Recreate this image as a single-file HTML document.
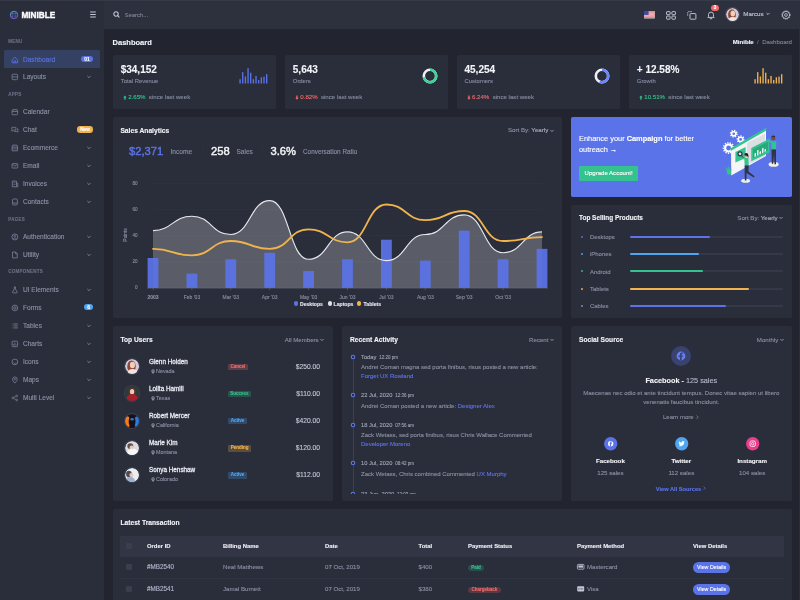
<!DOCTYPE html>
<html lang="en"><head><meta charset="utf-8"><title>Minible Dashboard</title>
<style>
*{box-sizing:border-box;margin:0;padding:0}
html,body{width:800px;height:600px;overflow:hidden;background:#22252f;font-family:"Liberation Sans",Arial,sans-serif}
#root{position:relative;width:800px;height:600px;overflow:hidden;will-change:transform}
.a{position:absolute}
.t{position:absolute;white-space:nowrap;line-height:10px;height:10px;-webkit-text-stroke:0.12px currentColor}
.t b{font-weight:700}
svg{overflow:visible}
</style></head><body><div id="root">

<div class="a" style="left:104.40px;top:0.00px;width:695.60px;height:29.00px;background:#2d313e;border-radius:0px;"></div>
<div class="a" style="left:0.00px;top:0.00px;width:104.40px;height:600.00px;background:#2a2e3b;border-radius:0px;"></div>
<div class="a" style="left:0.00px;top:0.00px;width:800.00px;height:0.80px;background:#353948;border-radius:0px;"></div>
<div class="a" style="left:798.60px;top:29.00px;width:1.40px;height:571.00px;background:#2b2f3c;border-radius:0px;"></div>
<svg class="a" style="left:8.85px;top:10.00px;" width="10" height="10" viewBox="0 0 10 10"><defs><linearGradient id="lg" x1="0.1" y1="0" x2="0.7" y2="1"><stop offset="0" stop-color="#3fa9d8"/><stop offset="1" stop-color="#7a52c4"/></linearGradient></defs>
<circle cx="5" cy="5" r="3.75" fill="#2b3550" stroke="url(#lg)" stroke-width="0.95"/>
<ellipse cx="5" cy="5" rx="1.7" ry="3.75" fill="none" stroke="url(#lg)" stroke-width="0.5" opacity="0.8"/>
<path d="M1.5 3.7H8.5M1.5 6.3H8.5" stroke="url(#lg)" stroke-width="0.5" opacity="0.8"/></svg>
<div class="t" style="top:9.90px;font-size:8.2px;color:#ffffff;line-height:12px;height:12px;font-weight:700;left:21.40px;letter-spacing:0.02px;font-weight:700;-webkit-text-stroke:0.35px #fff;">MINIBLE</div>
<svg class="a" style="left:90.30px;top:11.30px;" width="6" height="7" viewBox="0 0 6 7"><path d="M0.2 1.0H5.8M0.2 3.5H5.8M0.2 6.0H5.8" stroke="#c3c8d8" stroke-width="1.1"/></svg>
<svg class="a" style="left:113.30px;top:11.30px;" width="7" height="7" viewBox="0 0 7 7"><circle cx="3" cy="3" r="2.2" fill="none" stroke="#c3c8d8" stroke-width="1.05"/><path d="M4.7 4.7L6.1 6.1" stroke="#c3c8d8" stroke-width="1.05" stroke-linecap="round"/></svg>
<div class="t" style="top:10.20px;font-size:5.8px;color:#7d8496;left:124.80px;">Search...</div>
<div class="t" style="top:36.50px;font-size:4.5px;color:#697085;left:8.30px;letter-spacing:0.25px;font-weight:600;">MENU</div>
<div class="t" style="top:89.80px;font-size:4.5px;color:#697085;left:8.30px;letter-spacing:0.25px;font-weight:600;">APPS</div>
<div class="t" style="top:214.50px;font-size:4.5px;color:#697085;left:8.30px;letter-spacing:0.25px;font-weight:600;">PAGES</div>
<div class="t" style="top:267.00px;font-size:4.5px;color:#697085;left:8.30px;letter-spacing:0.25px;font-weight:600;">COMPONENTS</div>
<div class="a" style="left:4.30px;top:50.00px;width:95.70px;height:17.50px;background:#344163;border-radius:1.5px;"></div>
<svg class="a" style="left:11.15px;top:55.55px;" width="7.7" height="7.9" viewBox="0 0 7 7.2"><path d="M1 3.4L3.5 1.1L6 3.4V6.2H1Z M2.7 6.2V4.4H4.3V6.2" fill="none" stroke="#5b73e8" stroke-width="0.75" stroke-linejoin="round"/></svg>
<div class="t" style="top:55.20px;font-size:6.55px;color:#5b73e8;left:23.00px;">Dashboard</div>
<div class="a" style="left:80.80px;top:55.70px;width:12.20px;height:6.60px;background:#5b73e8;border-radius:3.3px;"></div>
<div class="t" style="top:54.20px;font-size:5px;color:#fff;font-weight:700;left:-113.10px;width:400px;text-align:center;">01</div>
<svg class="a" style="left:11.15px;top:72.55px;" width="7.7" height="7.9" viewBox="0 0 7 7.2"><rect x="1" y="1.1" width="5" height="5" rx="0.8" fill="none" stroke="#78819a" stroke-width="0.75"/><path d="M1 3.6H6" stroke="#78819a" stroke-width="0.75"/></svg>
<div class="t" style="top:71.90px;font-size:6.55px;color:#8b92a6;left:23.00px;">Layouts</div>
<svg class="a" style="left:86.30px;top:73.70px;" width="6" height="6" viewBox="0 0 6 6"><path d="M1.65 2.325 L3 3.675 L4.35 2.325" fill="none" stroke="#7b8499" stroke-width="0.95" stroke-linecap="round" stroke-linejoin="round"/></svg>
<svg class="a" style="left:11.15px;top:107.75px;" width="7.7" height="7.9" viewBox="0 0 7 7.2"><rect x="1" y="1.6" width="5" height="4.6" rx="0.8" fill="none" stroke="#78819a" stroke-width="0.75"/><path d="M1 3.2H6M2.3 0.9V2M4.7 0.9V2" stroke="#78819a" stroke-width="0.7"/></svg>
<div class="t" style="top:107.40px;font-size:6.55px;color:#8b92a6;left:23.00px;">Calendar</div>
<svg class="a" style="left:11.15px;top:125.55px;" width="7.7" height="7.9" viewBox="0 0 7 7.2"><path d="M0.8 1.2H4.4V3.8H2.2L0.8 4.8Z" fill="none" stroke="#78819a" stroke-width="0.7" stroke-linejoin="round"/><path d="M5.2 2.6H6.3V5.6L5.3 5H3V4.4" fill="none" stroke="#78819a" stroke-width="0.7" stroke-linejoin="round"/></svg>
<div class="t" style="top:124.90px;font-size:6.55px;color:#8b92a6;left:23.00px;">Chat</div>
<div class="a" style="left:77.00px;top:126.40px;width:16.00px;height:6.40px;background:#f1b44c;border-radius:3.2px;"></div>
<div class="t" style="top:124.70px;font-size:4.7px;color:#fff;font-weight:700;left:-115.00px;width:400px;text-align:center;">New</div>
<svg class="a" style="left:11.15px;top:143.75px;" width="7.7" height="7.9" viewBox="0 0 7 7.2"><path d="M1 2.6L1.6 1H5.4L6 2.6V6.2H1Z M1 2.8H6" fill="none" stroke="#78819a" stroke-width="0.75" stroke-linejoin="round"/><path d="M1 4.4H6" stroke="#78819a" stroke-width="0.6"/></svg>
<div class="t" style="top:143.40px;font-size:6.55px;color:#8b92a6;left:23.00px;">Ecommerce</div>
<svg class="a" style="left:86.30px;top:144.80px;" width="6" height="6" viewBox="0 0 6 6"><path d="M1.65 2.325 L3 3.675 L4.35 2.325" fill="none" stroke="#7b8499" stroke-width="0.95" stroke-linecap="round" stroke-linejoin="round"/></svg>
<svg class="a" style="left:11.15px;top:161.75px;" width="7.7" height="7.9" viewBox="0 0 7 7.2"><rect x="0.9" y="1.5" width="5.2" height="4" rx="0.7" fill="none" stroke="#78819a" stroke-width="0.75"/><path d="M1.2 2L3.5 3.8L5.8 2" fill="none" stroke="#78819a" stroke-width="0.7"/></svg>
<div class="t" style="top:161.40px;font-size:6.55px;color:#8b92a6;left:23.00px;">Email</div>
<svg class="a" style="left:86.30px;top:162.80px;" width="6" height="6" viewBox="0 0 6 6"><path d="M1.65 2.325 L3 3.675 L4.35 2.325" fill="none" stroke="#7b8499" stroke-width="0.95" stroke-linecap="round" stroke-linejoin="round"/></svg>
<svg class="a" style="left:11.15px;top:179.55px;" width="7.7" height="7.9" viewBox="0 0 7 7.2"><path d="M1.2 1H5V6.2H1.2Z M5 3H6.2V6.2H5" fill="none" stroke="#78819a" stroke-width="0.75" stroke-linejoin="round"/><path d="M2.2 2.5H4M2.2 4H4" stroke="#78819a" stroke-width="0.6"/></svg>
<div class="t" style="top:178.90px;font-size:6.55px;color:#8b92a6;left:23.00px;">Invoices</div>
<svg class="a" style="left:86.30px;top:180.70px;" width="6" height="6" viewBox="0 0 6 6"><path d="M1.65 2.325 L3 3.675 L4.35 2.325" fill="none" stroke="#7b8499" stroke-width="0.95" stroke-linecap="round" stroke-linejoin="round"/></svg>
<svg class="a" style="left:11.15px;top:197.55px;" width="7.7" height="7.9" viewBox="0 0 7 7.2"><rect x="1.4" y="0.9" width="4.4" height="5.4" rx="0.8" fill="none" stroke="#78819a" stroke-width="0.75"/><path d="M1.4 4.6H5.8" stroke="#78819a" stroke-width="0.7"/></svg>
<div class="t" style="top:196.90px;font-size:6.55px;color:#8b92a6;left:23.00px;">Contacts</div>
<svg class="a" style="left:86.30px;top:198.70px;" width="6" height="6" viewBox="0 0 6 6"><path d="M1.65 2.325 L3 3.675 L4.35 2.325" fill="none" stroke="#7b8499" stroke-width="0.95" stroke-linecap="round" stroke-linejoin="round"/></svg>
<svg class="a" style="left:11.15px;top:232.75px;" width="7.7" height="7.9" viewBox="0 0 7 7.2"><circle cx="3.5" cy="3.6" r="2.7" fill="none" stroke="#78819a" stroke-width="0.75"/><circle cx="3.5" cy="2.9" r="0.9" fill="none" stroke="#78819a" stroke-width="0.6"/><path d="M1.9 5.4C2.4 4.4 4.6 4.4 5.1 5.4" fill="none" stroke="#78819a" stroke-width="0.6"/></svg>
<div class="t" style="top:232.40px;font-size:6.55px;color:#8b92a6;left:23.00px;">Authentication</div>
<svg class="a" style="left:86.30px;top:233.80px;" width="6" height="6" viewBox="0 0 6 6"><path d="M1.65 2.325 L3 3.675 L4.35 2.325" fill="none" stroke="#7b8499" stroke-width="0.95" stroke-linecap="round" stroke-linejoin="round"/></svg>
<svg class="a" style="left:11.15px;top:250.75px;" width="7.7" height="7.9" viewBox="0 0 7 7.2"><path d="M1.4 0.9H4.2L5.7 2.4V6.3H1.4Z M4.1 1V2.5H5.6" fill="none" stroke="#78819a" stroke-width="0.75" stroke-linejoin="round"/></svg>
<div class="t" style="top:250.40px;font-size:6.55px;color:#8b92a6;left:23.00px;">Utility</div>
<svg class="a" style="left:86.30px;top:251.80px;" width="6" height="6" viewBox="0 0 6 6"><path d="M1.65 2.325 L3 3.675 L4.35 2.325" fill="none" stroke="#7b8499" stroke-width="0.95" stroke-linecap="round" stroke-linejoin="round"/></svg>
<svg class="a" style="left:11.15px;top:285.75px;" width="7.7" height="7.9" viewBox="0 0 7 7.2"><path d="M2.7 0.9H4.3M3 1V2.8L1.4 5.4Q1.2 6.3 2.1 6.3H4.9Q5.8 6.3 5.6 5.4L4 2.8V1" fill="none" stroke="#78819a" stroke-width="0.75" stroke-linejoin="round"/></svg>
<div class="t" style="top:285.40px;font-size:6.55px;color:#8b92a6;left:23.00px;">UI Elements</div>
<svg class="a" style="left:86.30px;top:286.80px;" width="6" height="6" viewBox="0 0 6 6"><path d="M1.65 2.325 L3 3.675 L4.35 2.325" fill="none" stroke="#7b8499" stroke-width="0.95" stroke-linecap="round" stroke-linejoin="round"/></svg>
<svg class="a" style="left:11.15px;top:303.75px;" width="7.7" height="7.9" viewBox="0 0 7 7.2"><circle cx="3.5" cy="3.6" r="2.6" fill="none" stroke="#78819a" stroke-width="0.75"/><circle cx="3.5" cy="3.6" r="1.1" fill="none" stroke="#78819a" stroke-width="0.7"/></svg>
<div class="t" style="top:303.40px;font-size:6.55px;color:#8b92a6;left:23.00px;">Forms</div>
<div class="a" style="left:84.20px;top:303.80px;width:8.80px;height:6.50px;background:#50a5f1;border-radius:3.3px;"></div>
<div class="t" style="top:302.20px;font-size:5px;color:#fff;font-weight:700;left:-111.40px;width:400px;text-align:center;">6</div>
<svg class="a" style="left:11.15px;top:321.75px;" width="7.7" height="7.9" viewBox="0 0 7 7.2"><path d="M2.2 1.8H6.2M2.2 3.6H6.2M2.2 5.4H6.2M0.8 1.8H1.2M0.8 3.6H1.2M0.8 5.4H1.2" stroke="#78819a" stroke-width="0.75"/></svg>
<div class="t" style="top:321.40px;font-size:6.55px;color:#8b92a6;left:23.00px;">Tables</div>
<svg class="a" style="left:86.30px;top:322.80px;" width="6" height="6" viewBox="0 0 6 6"><path d="M1.65 2.325 L3 3.675 L4.35 2.325" fill="none" stroke="#7b8499" stroke-width="0.95" stroke-linecap="round" stroke-linejoin="round"/></svg>
<svg class="a" style="left:11.15px;top:339.75px;" width="7.7" height="7.9" viewBox="0 0 7 7.2"><rect x="1" y="1.1" width="5" height="5" rx="0.8" fill="none" stroke="#78819a" stroke-width="0.75"/><path d="M2.4 5V3.6M3.5 5V2.4M4.6 5V3.9" stroke="#78819a" stroke-width="0.7"/></svg>
<div class="t" style="top:339.40px;font-size:6.55px;color:#8b92a6;left:23.00px;">Charts</div>
<svg class="a" style="left:86.30px;top:340.80px;" width="6" height="6" viewBox="0 0 6 6"><path d="M1.65 2.325 L3 3.675 L4.35 2.325" fill="none" stroke="#7b8499" stroke-width="0.95" stroke-linecap="round" stroke-linejoin="round"/></svg>
<svg class="a" style="left:11.15px;top:357.75px;" width="7.7" height="7.9" viewBox="0 0 7 7.2"><circle cx="3.5" cy="3.6" r="2.6" fill="none" stroke="#78819a" stroke-width="0.75"/><path d="M2.2 4.2C2.8 5.2 4.2 5.2 4.8 4.2" fill="none" stroke="#78819a" stroke-width="0.6"/></svg>
<div class="t" style="top:357.40px;font-size:6.55px;color:#8b92a6;left:23.00px;">Icons</div>
<svg class="a" style="left:86.30px;top:358.80px;" width="6" height="6" viewBox="0 0 6 6"><path d="M1.65 2.325 L3 3.675 L4.35 2.325" fill="none" stroke="#7b8499" stroke-width="0.95" stroke-linecap="round" stroke-linejoin="round"/></svg>
<svg class="a" style="left:11.15px;top:375.55px;" width="7.7" height="7.9" viewBox="0 0 7 7.2"><path d="M3.5 6.5C1.9 4.8 1.4 4 1.4 3A2.1 2.1 0 0 1 5.6 3C5.6 4 5.1 4.8 3.5 6.5Z" fill="none" stroke="#78819a" stroke-width="0.75"/><circle cx="3.5" cy="3" r="0.7" fill="none" stroke="#78819a" stroke-width="0.6"/></svg>
<div class="t" style="top:374.90px;font-size:6.55px;color:#8b92a6;left:23.00px;">Maps</div>
<svg class="a" style="left:86.30px;top:376.70px;" width="6" height="6" viewBox="0 0 6 6"><path d="M1.65 2.325 L3 3.675 L4.35 2.325" fill="none" stroke="#7b8499" stroke-width="0.95" stroke-linecap="round" stroke-linejoin="round"/></svg>
<svg class="a" style="left:11.15px;top:393.55px;" width="7.7" height="7.9" viewBox="0 0 7 7.2"><circle cx="1.7" cy="3.6" r="0.8" fill="none" stroke="#78819a" stroke-width="0.65"/><circle cx="5.2" cy="1.7" r="0.8" fill="none" stroke="#78819a" stroke-width="0.65"/><circle cx="5.2" cy="5.5" r="0.8" fill="none" stroke="#78819a" stroke-width="0.65"/><path d="M2.4 3.2L4.5 2.1M2.4 4L4.5 5.1" stroke="#78819a" stroke-width="0.65"/></svg>
<div class="t" style="top:392.90px;font-size:6.55px;color:#8b92a6;left:23.00px;">Multi Level</div>
<svg class="a" style="left:86.30px;top:394.70px;" width="6" height="6" viewBox="0 0 6 6"><path d="M1.65 2.325 L3 3.675 L4.35 2.325" fill="none" stroke="#7b8499" stroke-width="0.95" stroke-linecap="round" stroke-linejoin="round"/></svg>
<svg class="a" style="left:643.80px;top:11.40px;" width="10.8" height="7.4" viewBox="0 0 10.8 7.4"><rect width="10.8" height="7.4" fill="#fff"/>
<path d="M0 0.5H10.8M0 1.7H10.8M0 2.9H10.8M0 4.1H10.8M0 5.3H10.8M0 6.5H10.8" stroke="#e0434f" stroke-width="0.65"/>
<rect width="4.6" height="3.9" fill="#3f4aa0"/></svg>
<svg class="a" style="left:665.60px;top:10.60px;" width="10" height="8.8" viewBox="0 0 10 8.8"><rect x="0.6" y="0.6" width="3.5" height="3.1" rx="0.5" fill="none" stroke="#c3c8d8" stroke-width="0.95"/><rect x="5.9" y="0.6" width="3.5" height="3.1" rx="0.5" fill="none" stroke="#c3c8d8" stroke-width="0.95"/><rect x="0.6" y="5.1" width="3.5" height="3.1" rx="0.5" fill="none" stroke="#c3c8d8" stroke-width="0.95"/><rect x="5.9" y="5.1" width="3.5" height="3.1" rx="0.5" fill="none" stroke="#c3c8d8" stroke-width="0.95"/></svg>
<svg class="a" style="left:686.60px;top:10.60px;" width="9.5" height="8.8" viewBox="0 0 9.5 8.8"><rect x="3" y="2.6" width="5.9" height="5.6" rx="0.7" fill="none" stroke="#c3c8d8" stroke-width="0.95"/><path d="M0.7 4.6V1.3Q0.7 0.6 1.4 0.6H5" fill="none" stroke="#c3c8d8" stroke-width="0.95" stroke-dasharray="1.3 0.8"/></svg>
<svg class="a" style="left:706.60px;top:11.20px;" width="8" height="8.4" viewBox="0 0 8 8.4"><path d="M1.5 5.6V3.6A2.5 2.5 0 0 1 6.5 3.6V5.6L7.2 6.4H0.8Z" fill="none" stroke="#c3c8d8" stroke-width="0.95" stroke-linejoin="round"/><path d="M3.2 7.7H4.8" stroke="#c3c8d8" stroke-width="0.95" stroke-linecap="round"/></svg>
<div class="a" style="left:711.40px;top:4.90px;width:7.20px;height:6.60px;background:#f46a6a;border-radius:3.4px;"></div>
<div class="t" style="top:3.40px;font-size:4.6px;color:#fff;font-weight:700;left:515.00px;width:400px;text-align:center;">3</div>
<svg class="a" style="left:726.00px;top:7.90px;border-radius:50%;overflow:hidden;box-shadow:0 0 0 1px #454a5c" width="13.0" height="13.0" viewBox="0 0 13.0 13.0"><circle cx="6.5" cy="6.5" r="6.5" fill="#d3c9dc"/><ellipse cx="5.98" cy="6.825" rx="3.9" ry="5.5249999999999995" fill="#8e4736"/><ellipse cx="6.825" cy="5.5249999999999995" rx="2.34" ry="2.99" fill="#f1cdbb"/><ellipse cx="6.825" cy="12.674999999999999" rx="4.55" ry="3.575" fill="#efe4e2"/></svg>
<div class="t" style="top:9.40px;font-size:6.2px;color:#c3c8d8;left:743.30px;">Marcus</div>
<svg class="a" style="left:765.30px;top:11.30px;" width="6" height="6" viewBox="0 0 6 6"><path d="M1.85 2.425 L3 3.575 L4.15 2.425" fill="none" stroke="#c3c8d8" stroke-width="0.95" stroke-linecap="round" stroke-linejoin="round"/></svg>
<svg class="a" style="left:781.00px;top:10.00px;" width="10" height="10" viewBox="0 0 10 10"><circle cx="5" cy="5" r="3.6" fill="none" stroke="#c3c8d8" stroke-width="0.85"/><circle cx="5" cy="5" r="1.4" fill="none" stroke="#c3c8d8" stroke-width="0.8"/><circle cx="5" cy="5" r="4.1" fill="none" stroke="#c3c8d8" stroke-width="0.9" stroke-dasharray="1.1 1.05"/></svg>
<div class="t" style="top:36.60px;font-size:7.5px;color:#f3f4f8;line-height:12px;height:12px;font-weight:700;left:112.60px;">Dashboard</div>
<div class="t" style="top:37.00px;font-size:6.1px;color:#7d8496;right:8.00px;text-align:right;"><b style="color:#f3f4f8">Minible</b><span style="color:#6f768a">&nbsp; / &nbsp;</span>Dashboard</div>
<div class="a" style="left:112.70px;top:54.50px;width:163.50px;height:54.30px;background:#2a2d3a;border-radius:1.8px;"></div>
<div class="t" style="top:63.00px;font-size:10px;color:#f3f4f8;line-height:14px;height:14px;font-weight:700;left:120.70px;">$34,152</div>
<div class="t" style="top:76.20px;font-size:5.9px;color:#868da1;left:120.70px;">Total Revenue</div>
<svg class="a" style="left:123.20px;top:94.50px;" width="3.9" height="5.2" viewBox="0 0 3 4"><path d="M1.5 0.3L2.8 1.9H2V3.7H1V1.9H0.2Z" fill="#34c38f"/></svg>
<div class="t" style="top:92.10px;font-size:6.1px;color:#868da1;left:128.20px;"><span style="color:#34c38f">2.65%</span>&nbsp; since last week</div>
<div class="a" style="left:284.80px;top:54.50px;width:163.40px;height:54.30px;background:#2a2d3a;border-radius:1.8px;"></div>
<div class="t" style="top:63.00px;font-size:10px;color:#f3f4f8;line-height:14px;height:14px;font-weight:700;left:292.80px;">5,643</div>
<div class="t" style="top:76.20px;font-size:5.9px;color:#868da1;left:292.80px;">Orders</div>
<svg class="a" style="left:295.30px;top:94.50px;" width="3.9" height="5.2" viewBox="0 0 3 4"><path d="M1.5 3.7L2.8 2.1H2V0.3H1V2.1H0.2Z" fill="#f46a6a"/></svg>
<div class="t" style="top:92.10px;font-size:6.1px;color:#868da1;left:300.30px;"><span style="color:#f46a6a">0.82%</span>&nbsp; since last week</div>
<div class="a" style="left:456.50px;top:54.50px;width:163.50px;height:54.30px;background:#2a2d3a;border-radius:1.8px;"></div>
<div class="t" style="top:63.00px;font-size:10px;color:#f3f4f8;line-height:14px;height:14px;font-weight:700;left:464.50px;">45,254</div>
<div class="t" style="top:76.20px;font-size:5.9px;color:#868da1;left:464.50px;">Customers</div>
<svg class="a" style="left:467.00px;top:94.50px;" width="3.9" height="5.2" viewBox="0 0 3 4"><path d="M1.5 3.7L2.8 2.1H2V0.3H1V2.1H0.2Z" fill="#f46a6a"/></svg>
<div class="t" style="top:92.10px;font-size:6.1px;color:#868da1;left:472.00px;"><span style="color:#f46a6a">6.24%</span>&nbsp; since last week</div>
<div class="a" style="left:628.80px;top:54.50px;width:163.10px;height:54.30px;background:#2a2d3a;border-radius:1.8px;"></div>
<div class="t" style="top:63.00px;font-size:10px;color:#f3f4f8;line-height:14px;height:14px;font-weight:700;left:636.80px;">+ 12.58%</div>
<div class="t" style="top:76.20px;font-size:5.9px;color:#868da1;left:636.80px;">Growth</div>
<svg class="a" style="left:639.30px;top:94.50px;" width="3.9" height="5.2" viewBox="0 0 3 4"><path d="M1.5 0.3L2.8 1.9H2V3.7H1V1.9H0.2Z" fill="#34c38f"/></svg>
<div class="t" style="top:92.10px;font-size:6.1px;color:#868da1;left:644.30px;"><span style="color:#34c38f">10.51%</span>&nbsp; since last week</div>
<svg class="a" style="left:238.60px;top:67.60px;" width="30" height="15.5" viewBox="0 0 30 15.5"><rect x="0.40" y="11.20" width="1.35" height="4.30" fill="#5b73e8"/><rect x="3.06" y="4.15" width="1.35" height="11.35" fill="#5b73e8"/><rect x="5.72" y="8.45" width="1.35" height="7.05" fill="#5b73e8"/><rect x="8.38" y="0.20" width="1.35" height="15.30" fill="#5b73e8"/><rect x="11.04" y="4.67" width="1.35" height="10.83" fill="#5b73e8"/><rect x="13.70" y="11.20" width="1.35" height="4.30" fill="#5b73e8"/><rect x="16.36" y="7.94" width="1.35" height="7.56" fill="#5b73e8"/><rect x="19.02" y="12.06" width="1.35" height="3.44" fill="#5b73e8"/><rect x="21.68" y="9.31" width="1.35" height="6.19" fill="#5b73e8"/><rect x="24.34" y="8.62" width="1.35" height="6.88" fill="#5b73e8"/><rect x="27.00" y="6.22" width="1.35" height="9.28" fill="#5b73e8"/></svg>
<svg class="a" style="left:754.30px;top:67.60px;" width="30" height="15.5" viewBox="0 0 30 15.5"><rect x="0.40" y="11.20" width="1.35" height="4.30" fill="#f1b44c"/><rect x="3.06" y="4.15" width="1.35" height="11.35" fill="#f1b44c"/><rect x="5.72" y="8.45" width="1.35" height="7.05" fill="#f1b44c"/><rect x="8.38" y="0.20" width="1.35" height="15.30" fill="#f1b44c"/><rect x="11.04" y="4.67" width="1.35" height="10.83" fill="#f1b44c"/><rect x="13.70" y="11.20" width="1.35" height="4.30" fill="#f1b44c"/><rect x="16.36" y="7.94" width="1.35" height="7.56" fill="#f1b44c"/><rect x="19.02" y="12.06" width="1.35" height="3.44" fill="#f1b44c"/><rect x="21.68" y="9.31" width="1.35" height="6.19" fill="#f1b44c"/><rect x="24.34" y="8.62" width="1.35" height="6.88" fill="#f1b44c"/><rect x="27.00" y="6.22" width="1.35" height="9.28" fill="#f1b44c"/></svg>
<svg class="a" style="left:421.25px;top:66.60px;" width="18" height="18" viewBox="0 0 18 18"><circle cx="9" cy="9" r="6.2" fill="none" stroke="#eef0f5" stroke-width="2.6"/><circle cx="9" cy="9" r="6.2" fill="none" stroke="#3dd39b" stroke-width="2.6" stroke-dasharray="27.27 38.96" transform="rotate(-90 9 9)"/></svg>
<svg class="a" style="left:593.40px;top:66.60px;" width="18" height="18" viewBox="0 0 18 18"><circle cx="9" cy="9" r="6.2" fill="none" stroke="#eef0f5" stroke-width="2.6"/><circle cx="9" cy="9" r="6.2" fill="none" stroke="#6a88fb" stroke-width="2.6" stroke-dasharray="21.43 38.96" transform="rotate(-90 9 9)"/></svg>
<div class="a" style="left:112.70px;top:116.80px;width:449.70px;height:201.10px;background:#2a2d3a;border-radius:1.8px;"></div>
<div class="t" style="top:125.70px;font-size:6.7px;color:#f3f4f8;font-weight:700;left:120.40px;">Sales Analytics</div>
<div class="t" style="top:125.20px;font-size:6.15px;color:#8c92a5;right:251.80px;text-align:right;">Sort By: <span style="color:#a9afc2">Yearly</span></div>
<svg class="a" style="left:548.80px;top:127.50px;" width="6" height="6" viewBox="0 0 6 6"><path d="M1.8 2.4 L3 3.6 L4.2 2.4" fill="none" stroke="#9aa0b3" stroke-width="0.95" stroke-linecap="round" stroke-linejoin="round"/></svg>
<div class="t" style="top:144.00px;font-size:11.2px;color:#5b73e8;line-height:14px;height:14px;left:129.00px;font-weight:500;-webkit-text-stroke:0.42px #5b73e8;">$2,371</div>
<div class="t" style="top:146.80px;font-size:6.6px;color:#8a90a3;left:170.50px;">Income</div>
<div class="a" style="left:202.00px;top:144.00px;width:0.50px;height:14.00px;background:#32364450;border-radius:0px;"></div>
<div class="t" style="top:144.00px;font-size:11.2px;color:#f3f4f8;line-height:14px;height:14px;left:211.00px;-webkit-text-stroke:0.42px #f3f4f8;">258</div>
<div class="t" style="top:146.80px;font-size:6.5px;color:#8a90a3;left:236.50px;">Sales</div>
<div class="a" style="left:262.00px;top:144.00px;width:0.50px;height:14.00px;background:#32364450;border-radius:0px;"></div>
<div class="t" style="top:144.00px;font-size:11.2px;color:#f3f4f8;line-height:14px;height:14px;left:270.50px;-webkit-text-stroke:0.42px #f3f4f8;">3.6%</div>
<div class="t" style="top:146.80px;font-size:6.4px;color:#8a90a3;left:303.00px;">Conversation Ratio</div>
<svg class="a" style="left:0;top:0" width="800" height="600" viewBox="0 0 800 600"><path d="M153.0 261.90H542.0" stroke="#32394e" stroke-width="0.5"/><path d="M153.0 235.80H542.0" stroke="#32394e" stroke-width="0.5"/><path d="M153.0 209.70H542.0" stroke="#32394e" stroke-width="0.5"/><path d="M153.0 183.60H542.0" stroke="#32394e" stroke-width="0.5"/><path d="M153.00 230.58C172.45 230.58 172.45 216.23 191.90 216.23C211.35 216.23 211.35 234.50 230.80 234.50C250.25 234.50 250.25 200.56 269.70 200.56C289.15 200.56 289.15 259.29 308.60 259.29C328.05 259.29 328.05 231.88 347.50 231.88C366.95 231.88 366.95 260.60 386.40 260.60C405.85 260.60 405.85 234.50 425.30 234.50C444.75 234.50 444.75 214.92 464.20 214.92C483.65 214.92 483.65 252.76 503.10 252.76C522.55 252.76 522.55 231.88 542.00 231.88L542.00 288.0L153.0 288.0Z" fill="#dfe2e6" fill-opacity="0.27"/><rect x="147.60" y="257.99" width="10.8" height="30.01" fill="#5b73e8" fill-opacity="0.92"/><rect x="186.50" y="273.64" width="10.8" height="14.35" fill="#5b73e8" fill-opacity="0.92"/><rect x="225.40" y="259.29" width="10.8" height="28.71" fill="#5b73e8" fill-opacity="0.92"/><rect x="264.30" y="252.76" width="10.8" height="35.23" fill="#5b73e8" fill-opacity="0.92"/><rect x="303.20" y="271.04" width="10.8" height="16.96" fill="#5b73e8" fill-opacity="0.92"/><rect x="342.10" y="259.29" width="10.8" height="28.71" fill="#5b73e8" fill-opacity="0.92"/><rect x="381.00" y="239.72" width="10.8" height="48.28" fill="#5b73e8" fill-opacity="0.92"/><rect x="419.90" y="260.60" width="10.8" height="27.40" fill="#5b73e8" fill-opacity="0.92"/><rect x="458.80" y="230.58" width="10.8" height="57.42" fill="#5b73e8" fill-opacity="0.92"/><rect x="497.70" y="259.29" width="10.8" height="28.71" fill="#5b73e8" fill-opacity="0.92"/><rect x="536.60" y="248.85" width="10.8" height="39.15" fill="#5b73e8" fill-opacity="0.92"/><path d="M147.0 288.2H548.0" stroke="#6b7186" stroke-width="0.5"/><path d="M153.00 288.0V290.3" stroke="#6b7186" stroke-width="0.5"/><path d="M191.90 288.0V290.3" stroke="#6b7186" stroke-width="0.5"/><path d="M230.80 288.0V290.3" stroke="#6b7186" stroke-width="0.5"/><path d="M269.70 288.0V290.3" stroke="#6b7186" stroke-width="0.5"/><path d="M308.60 288.0V290.3" stroke="#6b7186" stroke-width="0.5"/><path d="M347.50 288.0V290.3" stroke="#6b7186" stroke-width="0.5"/><path d="M386.40 288.0V290.3" stroke="#6b7186" stroke-width="0.5"/><path d="M425.30 288.0V290.3" stroke="#6b7186" stroke-width="0.5"/><path d="M464.20 288.0V290.3" stroke="#6b7186" stroke-width="0.5"/><path d="M503.10 288.0V290.3" stroke="#6b7186" stroke-width="0.5"/><path d="M153.00 230.58C172.45 230.58 172.45 216.23 191.90 216.23C211.35 216.23 211.35 234.50 230.80 234.50C250.25 234.50 250.25 200.56 269.70 200.56C289.15 200.56 289.15 259.29 308.60 259.29C328.05 259.29 328.05 231.88 347.50 231.88C366.95 231.88 366.95 260.60 386.40 260.60C405.85 260.60 405.85 234.50 425.30 234.50C444.75 234.50 444.75 214.92 464.20 214.92C483.65 214.92 483.65 252.76 503.10 252.76C522.55 252.76 522.55 231.88 542.00 231.88" fill="none" stroke="#e6e8ee" stroke-width="1.15"/><path d="M153.00 248.85C172.45 248.85 172.45 255.38 191.90 255.38C211.35 255.38 211.35 241.02 230.80 241.02C250.25 241.02 250.25 248.85 269.70 248.85C289.15 248.85 289.15 229.28 308.60 229.28C328.05 229.28 328.05 242.32 347.50 242.32C366.95 242.32 366.95 204.48 386.40 204.48C405.85 204.48 405.85 220.14 425.30 220.14C444.75 220.14 444.75 211.00 464.20 211.00C483.65 211.00 483.65 241.02 503.10 241.02C522.55 241.02 522.55 237.11 542.00 237.11" fill="none" stroke="#f1b44c" stroke-width="1.8" stroke-linecap="round"/></svg>
<div class="t" style="top:283.30px;font-size:4.6px;color:#8a90a3;right:662.50px;text-align:right;">0</div>
<div class="t" style="top:257.20px;font-size:4.6px;color:#8a90a3;right:662.50px;text-align:right;">20</div>
<div class="t" style="top:231.10px;font-size:4.6px;color:#8a90a3;right:662.50px;text-align:right;">40</div>
<div class="t" style="top:205.00px;font-size:4.6px;color:#8a90a3;right:662.50px;text-align:right;">60</div>
<div class="t" style="top:178.90px;font-size:4.6px;color:#8a90a3;right:662.50px;text-align:right;">80</div>
<div class="t" style="left:106px;top:230px;width:40px;text-align:center;font-size:4.8px;color:#8a90a3;transform:rotate(-90deg)">Points</div>
<div class="t" style="top:292.20px;font-size:5.0px;color:#8a90a3;font-weight:700;left:-47.00px;width:400px;text-align:center;">2003</div>
<div class="t" style="top:292.20px;font-size:5.0px;color:#8a90a3;left:-8.10px;width:400px;text-align:center;">Feb '03</div>
<div class="t" style="top:292.20px;font-size:5.0px;color:#8a90a3;left:30.80px;width:400px;text-align:center;">Mar '03</div>
<div class="t" style="top:292.20px;font-size:5.0px;color:#8a90a3;left:69.70px;width:400px;text-align:center;">Apr '03</div>
<div class="t" style="top:292.20px;font-size:5.0px;color:#8a90a3;left:108.60px;width:400px;text-align:center;">May '03</div>
<div class="t" style="top:292.20px;font-size:5.0px;color:#8a90a3;left:147.50px;width:400px;text-align:center;">Jun '03</div>
<div class="t" style="top:292.20px;font-size:5.0px;color:#8a90a3;left:186.40px;width:400px;text-align:center;">Jul '03</div>
<div class="t" style="top:292.20px;font-size:5.0px;color:#8a90a3;left:225.30px;width:400px;text-align:center;">Aug '03</div>
<div class="t" style="top:292.20px;font-size:5.0px;color:#8a90a3;left:264.20px;width:400px;text-align:center;">Sep '03</div>
<div class="t" style="top:292.20px;font-size:5.0px;color:#8a90a3;left:303.10px;width:400px;text-align:center;">Oct '03</div>
<div class="a" style="left:293.50px;top:301.40px;width:4.20px;height:4.20px;background:#5b73e8;border-radius:2.1px;"></div>
<div class="t" style="top:298.60px;font-size:5.1px;color:#e4e6ee;font-weight:700;left:300.00px;">Desktops</div>
<div class="a" style="left:327.50px;top:301.40px;width:4.20px;height:4.20px;background:#dfe2e6;border-radius:2.1px;"></div>
<div class="t" style="top:298.60px;font-size:5.1px;color:#e4e6ee;font-weight:700;left:333.60px;">Laptops</div>
<div class="a" style="left:357.10px;top:301.40px;width:4.20px;height:4.20px;background:#f1b44c;border-radius:2.1px;"></div>
<div class="t" style="top:298.60px;font-size:5.1px;color:#e4e6ee;font-weight:700;left:363.60px;">Tablets</div>
<div class="a" style="left:570.60px;top:116.80px;width:221.30px;height:80.00px;background:#5b73e8;border-radius:1.8px;"></div>
<div class="t" style="top:132.80px;font-size:7.4px;color:#ffffff;line-height:12px;height:12px;left:579.00px;">Enhance your <b>Campaign</b> for better</div>
<div class="t" style="top:143.70px;font-size:7.4px;color:#ffffff;line-height:12px;height:12px;left:579.00px;">outreach &rarr;</div>
<div class="a" style="left:579.00px;top:165.50px;width:59.30px;height:15.50px;background:#34c38f;border-radius:1.2px;"></div>
<div class="t" style="top:168.30px;font-size:6.05px;color:#fff;left:408.60px;width:400px;text-align:center;">Upgrade Account!</div>
<svg class="a" style="left:721.00px;top:126.00px;" width="72" height="60" viewBox="0 0 72 60">
<g>
<g stroke="#fff" stroke-width="1.5" stroke-dasharray="1.25 1.25" fill="none"><circle cx="12.75" cy="7.75" r="3.2"/><circle cx="19.6" cy="13.4" r="3.3"/><circle cx="7.6" cy="22" r="5.2"/></g>
<g stroke="#fff" fill="none"><circle cx="12.75" cy="7.75" r="2.1" stroke-width="1.5"/><circle cx="19.6" cy="13.4" r="2.2" stroke-width="1.5"/><circle cx="7.6" cy="22" r="3.5" stroke-width="2.2"/></g>
<path d="M10 22.75L45 2.75V30L10.25 49.6Z" fill="#f4f5f7"/>
<path d="M9.6 22.2L45.3 1.8V4.6L9.6 25Z" fill="#34c38f"/>
<path d="M25.9 17.1L44 7.75V30.25L25.9 39Z" fill="#dddee4"/>
<path d="M14.4 25.9L24.6 20.9V32.1L14.4 36.5Z" fill="#34c38f"/>
<path d="M30.25 22.1L48.4 12.75V26.5L30.25 35.25Z" fill="#34c38f"/>
<path d="M32 23.5L47 15.8V24.5L32 32Z" fill="#2aa87a"/>
<path d="M33.5 31V27.5L35 26.8V30.3ZM36 29.8V24.5L37.5 23.8V29ZM38.5 28.5V25.7L40 25V27.8ZM41 27.3V22.5L42.5 21.8V26.5ZM43.5 26V23.5L45 22.8V25.3Z" fill="#e9f7f1"/>
<circle cx="19" cy="27.8" r="2.6" fill="#2c3340"/><circle cx="19" cy="27.8" r="1.4" fill="#cfeee2"/>
<path d="M20.5 29.5L22.5 32" stroke="#2c3340" stroke-width="1"/>
<path d="M6.6 48.5L4.6 40.5L7.2 44L7.8 39L9.2 44.5L10.5 42.5L9.8 48.5Z" fill="#34c38f"/>
<ellipse cx="24.6" cy="54.7" rx="4.5" ry="2" fill="#f1efe6"/>
<ellipse cx="52.6" cy="38.4" rx="5" ry="2.3" fill="#f1efe6"/>
<path d="M23.3 32.3L27.3 31.8L27.8 39.3H23.6Z" fill="#34c38f"/>
<path d="M23.6 39.3H27.8L27.4 45.5L33.6 50.2L32.8 51.6L25.6 47L25.4 54.6H23.8Z" fill="#2f3542"/>
<path d="M23.6 33.6L15.2 31.4L15.6 30.2L24 32Z" fill="#34c38f"/>
<circle cx="25.3" cy="29.5" r="1.9" fill="#e0a98a"/>
<path d="M23.3 29.2A2 2 0 0 1 27.3 29L27.6 32L26.3 30Z" fill="#20222b"/>
<path d="M50.2 15.4L55.3 15.2L55 23.6H50.5Z" fill="#34c38f"/>
<path d="M50.5 23.6H55L55 38.2H53.5L53 27.5L52.3 37.8H50.8Z" fill="#2f3542"/>
<path d="M50.6 17.2L45.6 14.2L46.2 13L50.8 15.2Z" fill="#34c38f"/>
<circle cx="52.3" cy="12.2" r="2" fill="#7a4a33"/>
<path d="M50.3 11.4A2 2 0 0 1 54.3 11.4L52.3 10.6Z" fill="#20222b"/>
</g></svg>
<div class="a" style="left:570.60px;top:205.00px;width:221.30px;height:112.90px;background:#2a2d3a;border-radius:1.8px;"></div>
<div class="t" style="top:213.20px;font-size:6.45px;color:#f3f4f8;font-weight:700;left:579.00px;">Top Selling Products</div>
<div class="t" style="top:212.90px;font-size:6.15px;color:#8c92a5;right:22.40px;text-align:right;">Sort By: <span style="color:#a9afc2">Yearly</span></div>
<svg class="a" style="left:777.80px;top:215.10px;" width="6" height="6" viewBox="0 0 6 6"><path d="M1.8 2.4 L3 3.6 L4.2 2.4" fill="none" stroke="#9aa0b3" stroke-width="0.95" stroke-linecap="round" stroke-linejoin="round"/></svg>
<svg class="a" style="left:580.00px;top:235.20px;" width="4" height="4" viewBox="0 0 4 4"><circle cx="2" cy="2" r="0.95" fill="#5b73e8"/></svg>
<div class="t" style="top:232.30px;font-size:5.95px;color:#8a90a3;left:590.00px;">Desktops</div>
<div class="a" style="left:630.00px;top:236.20px;width:153.00px;height:2.00px;background:#343849;border-radius:1px;"></div>
<div class="a" style="left:630.00px;top:236.20px;width:79.56px;height:2.00px;background:#5b73e8;border-radius:1px;"></div>
<svg class="a" style="left:580.00px;top:252.30px;" width="4" height="4" viewBox="0 0 4 4"><circle cx="2" cy="2" r="0.95" fill="#50a5f1"/></svg>
<div class="t" style="top:249.40px;font-size:5.95px;color:#8a90a3;left:590.00px;">iPhones</div>
<div class="a" style="left:630.00px;top:253.30px;width:153.00px;height:2.00px;background:#343849;border-radius:1px;"></div>
<div class="a" style="left:630.00px;top:253.30px;width:68.85px;height:2.00px;background:#50a5f1;border-radius:1px;"></div>
<svg class="a" style="left:580.00px;top:269.40px;" width="4" height="4" viewBox="0 0 4 4"><circle cx="2" cy="2" r="0.95" fill="#34c38f"/></svg>
<div class="t" style="top:266.50px;font-size:5.95px;color:#8a90a3;left:590.00px;">Android</div>
<div class="a" style="left:630.00px;top:270.40px;width:153.00px;height:2.00px;background:#343849;border-radius:1px;"></div>
<div class="a" style="left:630.00px;top:270.40px;width:73.44px;height:2.00px;background:#34c38f;border-radius:1px;"></div>
<svg class="a" style="left:580.00px;top:286.50px;" width="4" height="4" viewBox="0 0 4 4"><circle cx="2" cy="2" r="0.95" fill="#f1b44c"/></svg>
<div class="t" style="top:283.60px;font-size:5.95px;color:#8a90a3;left:590.00px;">Tablets</div>
<div class="a" style="left:630.00px;top:287.50px;width:153.00px;height:2.00px;background:#343849;border-radius:1px;"></div>
<div class="a" style="left:630.00px;top:287.50px;width:119.34px;height:2.00px;background:#f1b44c;border-radius:1px;"></div>
<svg class="a" style="left:580.00px;top:303.60px;" width="4" height="4" viewBox="0 0 4 4"><circle cx="2" cy="2" r="0.95" fill="#8a8fb0"/></svg>
<div class="t" style="top:300.70px;font-size:5.95px;color:#8a90a3;left:590.00px;">Cables</div>
<div class="a" style="left:630.00px;top:304.60px;width:153.00px;height:2.00px;background:#343849;border-radius:1px;"></div>
<div class="a" style="left:630.00px;top:304.60px;width:96.39px;height:2.00px;background:#5b73e8;border-radius:1px;"></div>
<div class="a" style="left:112.70px;top:325.90px;width:220.50px;height:175.10px;background:#2a2d3a;border-radius:1.8px;"></div>
<div class="t" style="top:334.90px;font-size:6.7px;color:#f3f4f8;font-weight:700;left:120.40px;">Top Users</div>
<div class="t" style="top:334.80px;font-size:6.1px;color:#8a90a3;right:481.40px;text-align:right;">All Members</div>
<svg class="a" style="left:319.00px;top:337.00px;" width="6" height="6" viewBox="0 0 6 6"><path d="M1.8 2.4 L3 3.6 L4.2 2.4" fill="none" stroke="#9aa0b3" stroke-width="0.95" stroke-linecap="round" stroke-linejoin="round"/></svg>
<svg class="a" style="left:125.30px;top:359.40px;border-radius:50%;overflow:hidden;box-shadow:0 0 0 1px #3b3f4f" width="14.2" height="14.2" viewBox="0 0 14.2 14.2"><circle cx="7.1" cy="7.1" r="7.1" fill="#d3c9dc"/><ellipse cx="6.532" cy="7.455" rx="4.26" ry="6.034999999999999" fill="#8e4736"/><ellipse cx="7.455" cy="6.034999999999999" rx="2.5559999999999996" ry="3.266" fill="#f1cdbb"/><ellipse cx="7.455" cy="13.844999999999999" rx="4.97" ry="3.9050000000000002" fill="#efe4e2"/></svg>
<div class="t" style="top:356.80px;font-size:6.35px;color:#e6e8ef;left:149.00px;-webkit-text-stroke:0.3px #e6e8ef;">Glenn Holden</div>
<svg class="a" style="left:150.80px;top:368.70px;" width="4.1" height="5.3" viewBox="0 0 3.4 4.4"><path d="M1.7 4.2C0.6 2.9 0.3 2.3 0.3 1.7A1.4 1.4 0 0 1 3.1 1.7C3.1 2.3 2.8 2.9 1.7 4.2Z" fill="#8a90a3"/><circle cx="1.7" cy="1.6" r="0.55" fill="#2a2d3a"/></svg>
<div class="t" style="top:366.10px;font-size:5.4px;color:#8a90a3;left:156.00px;">Nevada</div>
<div class="a" style="left:228.40px;top:363.80px;width:19.20px;height:6.60px;background:rgba(244,106,106,0.25);border-radius:1px;"></div>
<div class="t" style="top:362.20px;font-size:4.5px;color:#f46a6a;font-weight:700;left:38.00px;width:400px;text-align:center;">Cancel</div>
<div class="t" style="top:361.60px;font-size:6.7px;color:#c3c8d8;right:480.00px;text-align:right;">$250.00</div>
<svg class="a" style="left:125.30px;top:386.45px;border-radius:50%;overflow:hidden;box-shadow:0 0 0 1px #3b3f4f" width="14.2" height="14.2" viewBox="0 0 14.2 14.2"><circle cx="7.1" cy="7.1" r="7.1" fill="#2d3b38"/><ellipse cx="7.1" cy="5.324999999999999" rx="3.55" ry="3.9050000000000002" fill="#5a3626"/><ellipse cx="7.1" cy="5.68" rx="2.13" ry="2.698" fill="#efc9b4"/><ellipse cx="7.1" cy="12.78" rx="5.68" ry="4.828" fill="#a81f2b"/></svg>
<div class="t" style="top:383.85px;font-size:6.35px;color:#e6e8ef;left:149.00px;-webkit-text-stroke:0.3px #e6e8ef;">Lolita Hamill</div>
<svg class="a" style="left:150.80px;top:395.75px;" width="4.1" height="5.3" viewBox="0 0 3.4 4.4"><path d="M1.7 4.2C0.6 2.9 0.3 2.3 0.3 1.7A1.4 1.4 0 0 1 3.1 1.7C3.1 2.3 2.8 2.9 1.7 4.2Z" fill="#8a90a3"/><circle cx="1.7" cy="1.6" r="0.55" fill="#2a2d3a"/></svg>
<div class="t" style="top:393.15px;font-size:5.4px;color:#8a90a3;left:156.00px;">Texas</div>
<div class="a" style="left:228.40px;top:390.85px;width:22.20px;height:6.60px;background:rgba(52,195,143,0.25);border-radius:1px;"></div>
<div class="t" style="top:389.25px;font-size:4.5px;color:#34c38f;font-weight:700;left:39.50px;width:400px;text-align:center;">Success</div>
<div class="t" style="top:388.65px;font-size:6.7px;color:#c3c8d8;right:480.00px;text-align:right;">$110.00</div>
<svg class="a" style="left:125.30px;top:413.50px;border-radius:50%;overflow:hidden;box-shadow:0 0 0 1px #3b3f4f" width="14.2" height="14.2" viewBox="0 0 14.2 14.2"><circle cx="7.1" cy="7.1" r="7.1" fill="#17161f"/><ellipse cx="2.485" cy="7.8100000000000005" rx="3.195" ry="5.68" fill="#f07d1c"/><ellipse cx="11.714999999999998" cy="7.8100000000000005" rx="2.9819999999999998" ry="5.324999999999999" fill="#2d7be0"/><ellipse cx="7.1" cy="7.455" rx="3.408" ry="6.034999999999999" fill="#121118"/><ellipse cx="7.1" cy="5.324999999999999" rx="1.775" ry="1.2779999999999998" fill="#3e8df0" opacity="0.8"/></svg>
<div class="t" style="top:410.90px;font-size:6.35px;color:#e6e8ef;left:149.00px;-webkit-text-stroke:0.3px #e6e8ef;">Robert Mercer</div>
<svg class="a" style="left:150.80px;top:422.80px;" width="4.1" height="5.3" viewBox="0 0 3.4 4.4"><path d="M1.7 4.2C0.6 2.9 0.3 2.3 0.3 1.7A1.4 1.4 0 0 1 3.1 1.7C3.1 2.3 2.8 2.9 1.7 4.2Z" fill="#8a90a3"/><circle cx="1.7" cy="1.6" r="0.55" fill="#2a2d3a"/></svg>
<div class="t" style="top:420.20px;font-size:5.4px;color:#8a90a3;left:156.00px;">California</div>
<div class="a" style="left:228.40px;top:417.90px;width:18.20px;height:6.60px;background:rgba(80,165,241,0.25);border-radius:1px;"></div>
<div class="t" style="top:416.30px;font-size:4.5px;color:#50a5f1;font-weight:700;left:37.50px;width:400px;text-align:center;">Active</div>
<div class="t" style="top:415.70px;font-size:6.7px;color:#c3c8d8;right:480.00px;text-align:right;">$420.00</div>
<svg class="a" style="left:125.30px;top:440.55px;border-radius:50%;overflow:hidden;box-shadow:0 0 0 1px #3b3f4f" width="14.2" height="14.2" viewBox="0 0 14.2 14.2"><circle cx="7.1" cy="7.1" r="7.1" fill="#dcdde0"/><ellipse cx="5.324999999999999" cy="4.97" rx="2.9819999999999998" ry="2.84" fill="#5f524d"/><ellipse cx="6.744999999999999" cy="6.744999999999999" rx="2.13" ry="2.343" fill="#e8c9b8"/><ellipse cx="7.8100000000000005" cy="12.78" rx="5.68" ry="4.97" fill="#f6f6f8"/></svg>
<div class="t" style="top:437.95px;font-size:6.35px;color:#e6e8ef;left:149.00px;-webkit-text-stroke:0.3px #e6e8ef;">Marie Kim</div>
<svg class="a" style="left:150.80px;top:449.85px;" width="4.1" height="5.3" viewBox="0 0 3.4 4.4"><path d="M1.7 4.2C0.6 2.9 0.3 2.3 0.3 1.7A1.4 1.4 0 0 1 3.1 1.7C3.1 2.3 2.8 2.9 1.7 4.2Z" fill="#8a90a3"/><circle cx="1.7" cy="1.6" r="0.55" fill="#2a2d3a"/></svg>
<div class="t" style="top:447.25px;font-size:5.4px;color:#8a90a3;left:156.00px;">Montana</div>
<div class="a" style="left:228.40px;top:444.95px;width:22.20px;height:6.60px;background:rgba(241,180,76,0.25);border-radius:1px;"></div>
<div class="t" style="top:443.35px;font-size:4.5px;color:#f1b44c;font-weight:700;left:39.50px;width:400px;text-align:center;">Pending</div>
<div class="t" style="top:442.75px;font-size:6.7px;color:#c3c8d8;right:480.00px;text-align:right;">$120.00</div>
<svg class="a" style="left:125.30px;top:467.60px;border-radius:50%;overflow:hidden;box-shadow:0 0 0 1px #3b3f4f" width="14.2" height="14.2" viewBox="0 0 14.2 14.2"><circle cx="7.1" cy="7.1" r="7.1" fill="#eceef2"/><ellipse cx="3.9050000000000002" cy="6.034999999999999" rx="2.84" ry="3.195" fill="#4c4a52"/><ellipse cx="6.39" cy="7.1" rx="1.988" ry="2.13" fill="#e6c6b4"/><ellipse cx="4.97" cy="12.78" rx="4.97" ry="3.9050000000000002" fill="#9fb0cc"/></svg>
<div class="t" style="top:465.00px;font-size:6.35px;color:#e6e8ef;left:149.00px;-webkit-text-stroke:0.3px #e6e8ef;">Sonya Henshaw</div>
<svg class="a" style="left:150.80px;top:476.90px;" width="4.1" height="5.3" viewBox="0 0 3.4 4.4"><path d="M1.7 4.2C0.6 2.9 0.3 2.3 0.3 1.7A1.4 1.4 0 0 1 3.1 1.7C3.1 2.3 2.8 2.9 1.7 4.2Z" fill="#8a90a3"/><circle cx="1.7" cy="1.6" r="0.55" fill="#2a2d3a"/></svg>
<div class="t" style="top:474.30px;font-size:5.4px;color:#8a90a3;left:156.00px;">Colorado</div>
<div class="a" style="left:228.40px;top:472.00px;width:18.20px;height:6.60px;background:rgba(80,165,241,0.25);border-radius:1px;"></div>
<div class="t" style="top:470.40px;font-size:4.5px;color:#50a5f1;font-weight:700;left:37.50px;width:400px;text-align:center;">Active</div>
<div class="t" style="top:469.80px;font-size:6.7px;color:#c3c8d8;right:480.00px;text-align:right;">$112.00</div>
<div class="a" style="left:342.10px;top:325.90px;width:220.30px;height:175.10px;background:#2a2d3a;border-radius:1.8px;"></div>
<div class="t" style="top:334.90px;font-size:6.7px;color:#f3f4f8;font-weight:700;left:350.00px;">Recent Activity</div>
<div class="t" style="top:334.80px;font-size:6.1px;color:#8a90a3;right:251.60px;text-align:right;">Recent</div>
<svg class="a" style="left:548.80px;top:337.00px;" width="6" height="6" viewBox="0 0 6 6"><path d="M1.8 2.4 L3 3.6 L4.2 2.4" fill="none" stroke="#9aa0b3" stroke-width="0.95" stroke-linecap="round" stroke-linejoin="round"/></svg>
<div class="a" style="left:345px;top:348px;width:215px;height:145.5px;overflow:hidden"><div class="a" style="left:-345px;top:-348px;width:800px;height:600px">
<div class="a" style="left:353.20px;top:357.00px;width:0.50px;height:163.00px;background:#3b4054;border-radius:0px;"></div>
<svg class="a" style="left:350.45px;top:353.60px;" width="6" height="6" viewBox="0 0 6 6"><circle cx="3" cy="3" r="1.75" fill="#2a2d3a" stroke="#6078f0" stroke-width="1.1"/></svg>
<div class="t" style="top:351.80px;font-size:5.75px;color:#9fa6ba;left:361.00px;">Today <span style="font-size:4.5px;color:#9aa0b3">&nbsp;12:20 pm</span></div>
<div class="t" style="top:362.40px;font-size:6.0px;color:#8a90a3;left:361.00px;">Andrei Coman magna sed porta finibus, risus posted a new article:</div>
<div class="t" style="top:371.10px;font-size:6.0px;color:#8a90a3;left:361.00px;"><span style="color:#5b73e8">Forget UX Rowland</span></div>
<svg class="a" style="left:350.45px;top:392.00px;" width="6" height="6" viewBox="0 0 6 6"><circle cx="3" cy="3" r="1.75" fill="#2a2d3a" stroke="#6078f0" stroke-width="1.1"/></svg>
<div class="t" style="top:390.20px;font-size:5.75px;color:#9fa6ba;left:361.00px;">22 Jul, 2020 <span style="font-size:4.5px;color:#9aa0b3">&nbsp;12:36 pm</span></div>
<div class="t" style="top:400.60px;font-size:6.0px;color:#8a90a3;left:361.00px;">Andrei Coman posted a new article: <span style="color:#5b73e8">Designer Alex</span></div>
<svg class="a" style="left:350.45px;top:421.50px;" width="6" height="6" viewBox="0 0 6 6"><circle cx="3" cy="3" r="1.75" fill="#2a2d3a" stroke="#6078f0" stroke-width="1.1"/></svg>
<div class="t" style="top:419.70px;font-size:5.75px;color:#9fa6ba;left:361.00px;">18 Jul, 2020 <span style="font-size:4.5px;color:#9aa0b3">&nbsp;07:56 am</span></div>
<div class="t" style="top:430.00px;font-size:6.0px;color:#8a90a3;left:361.00px;">Zack Wetass, sed porta finibus, risus Chris Wallace Commented</div>
<div class="t" style="top:439.00px;font-size:6.0px;color:#8a90a3;left:361.00px;"><span style="color:#5b73e8">Developer Moreno</span></div>
<svg class="a" style="left:350.45px;top:460.20px;" width="6" height="6" viewBox="0 0 6 6"><circle cx="3" cy="3" r="1.75" fill="#2a2d3a" stroke="#6078f0" stroke-width="1.1"/></svg>
<div class="t" style="top:458.40px;font-size:5.75px;color:#9fa6ba;left:361.00px;">10 Jul, 2020 <span style="font-size:4.5px;color:#9aa0b3">&nbsp;08:42 pm</span></div>
<div class="t" style="top:468.50px;font-size:6.0px;color:#8a90a3;left:361.00px;">Zack Wetass, Chris combined Commented <span style="color:#5b73e8">UX Murphy</span></div>
<svg class="a" style="left:350.45px;top:490.90px;" width="6" height="6" viewBox="0 0 6 6"><circle cx="3" cy="3" r="1.75" fill="#2a2d3a" stroke="#6078f0" stroke-width="1.1"/></svg>
<div class="t" style="top:489.10px;font-size:5.75px;color:#9fa6ba;left:361.00px;">23 Jun, 2020 <span style="font-size:4.5px;color:#9aa0b3">&nbsp;12:03 am</span></div>
</div></div>
<div class="a" style="left:570.60px;top:325.90px;width:221.30px;height:175.10px;background:#2a2d3a;border-radius:1.8px;"></div>
<div class="t" style="top:334.90px;font-size:6.7px;color:#f3f4f8;font-weight:700;left:579.00px;">Social Source</div>
<div class="t" style="top:334.80px;font-size:6.1px;color:#8a90a3;right:21.80px;text-align:right;">Monthly</div>
<svg class="a" style="left:778.60px;top:337.00px;" width="6" height="6" viewBox="0 0 6 6"><path d="M1.8 2.4 L3 3.6 L4.2 2.4" fill="none" stroke="#9aa0b3" stroke-width="0.95" stroke-linecap="round" stroke-linejoin="round"/></svg>
<svg class="a" style="left:671.30px;top:346.00px;" width="20" height="20" viewBox="0 0 20 20"><circle cx="10" cy="10" r="10" fill="#3a4270"/><circle cx="10" cy="10" r="4.402" fill="#6480f2"/><path d="M10.639 14.402000000000001v-3.55h1.278l0.213-1.42h-1.4909999999999999v-0.9229999999999999c0-0.426 0.142-0.71 0.781-0.71h0.71v-1.278c-0.426-0.071-0.781-0.0994-1.136-0.0994c-1.278 0-2.0589999999999997 0.781-2.0589999999999997 2.0589999999999997v0.9939999999999999h-1.278v1.42h1.278v3.55z" fill="#3a4270"/></svg>
<div class="t" style="top:374.70px;font-size:7.3px;color:#b5bacb;line-height:12px;height:12px;left:481.30px;width:400px;text-align:center;"><b style="color:#f3f4f8">Facebook -</b> <span style="color:#b5bacb">125 sales</span></div>
<div class="t" style="top:387.70px;font-size:6.05px;color:#8a90a3;left:481.30px;width:400px;text-align:center;">Maecenas nec odio et ante tincidunt tempus. Donec vitae sapien ut libero</div>
<div class="t" style="top:396.50px;font-size:6.05px;color:#8a90a3;left:481.30px;width:400px;text-align:center;">venenatis faucibus tincidunt.</div>
<div class="t" style="top:411.80px;font-size:6.0px;color:#8a90a3;left:478.30px;width:400px;text-align:center;">Learn more</div>
<svg class="a" style="left:695.50px;top:414.60px;" width="3" height="4.4" viewBox="0 0 3 4.4"><path d="M0.8 0.8L2.2 2.2L0.8 3.6" fill="none" stroke="#8a90a3" stroke-width="0.7" stroke-linecap="round" stroke-linejoin="round"/></svg>
<svg class="a" style="left:603.70px;top:437.00px;" width="13.4" height="13.4" viewBox="0 0 13.4 13.4"><circle cx="6.7" cy="6.7" r="6.7" fill="#5b73e8"/><circle cx="6.7" cy="6.7" r="2.635" fill="#fff"/><path d="M7.0825000000000005 9.335v-2.125h0.765l0.1275-0.85h-0.8925v-0.5525c0-0.255 0.085-0.425 0.4675-0.425h0.425v-0.765c-0.255-0.0425-0.4675-0.059500000000000004-0.68-0.059500000000000004c-0.765 0-1.2325 0.4675-1.2325 1.2325v0.595h-0.765v0.85h0.765v2.125z" fill="#5b73e8"/></svg>
<svg class="a" style="left:674.60px;top:437.00px;" width="13.4" height="13.4" viewBox="0 0 13.4 13.4"><circle cx="6.7" cy="6.7" r="6.7" fill="#50a5f1"/><path d="M9.9 4.7c-0.25 0.1-0.5 0.2-0.75 0.2 0.3-0.15 0.5-0.4 0.6-0.7-0.25 0.15-0.55 0.25-0.85 0.3a1.3 1.3 0 0 0-2.25 1.2c-1.1-0.05-2.05-0.6-2.7-1.4-0.35 0.6-0.15 1.35 0.4 1.75-0.2 0-0.4-0.05-0.6-0.15 0 0.65 0.45 1.15 1.05 1.3-0.2 0.05-0.4 0.05-0.6 0 0.15 0.55 0.65 0.9 1.2 0.9-0.55 0.45-1.25 0.65-1.95 0.55 0.6 0.4 1.3 0.6 2 0.6 2.45 0 3.85-2.1 3.75-3.95 0.25-0.15 0.5-0.4 0.7-0.6z" fill="#fff"/></svg>
<svg class="a" style="left:745.50px;top:437.00px;" width="13.4" height="13.4" viewBox="0 0 13.4 13.4"><circle cx="6.7" cy="6.7" r="6.7" fill="#e83e8c"/><rect x="4" y="4" width="5.4" height="5.4" rx="1.5" fill="none" stroke="#fff" stroke-width="0.8"/><circle cx="6.7" cy="6.7" r="1.2" fill="none" stroke="#fff" stroke-width="0.7"/></svg>
<div class="t" style="top:456.10px;font-size:6.2px;color:#f3f4f8;font-weight:700;left:410.40px;width:400px;text-align:center;">Facebook</div>
<div class="t" style="top:468.10px;font-size:6.15px;color:#8a90a3;left:410.40px;width:400px;text-align:center;">125 sales</div>
<div class="t" style="top:456.10px;font-size:6.2px;color:#f3f4f8;font-weight:700;left:481.30px;width:400px;text-align:center;">Twitter</div>
<div class="t" style="top:468.10px;font-size:6.15px;color:#8a90a3;left:481.30px;width:400px;text-align:center;">112 sales</div>
<div class="t" style="top:456.10px;font-size:6.2px;color:#f3f4f8;font-weight:700;left:552.20px;width:400px;text-align:center;">Instagram</div>
<div class="t" style="top:468.10px;font-size:6.15px;color:#8a90a3;left:552.20px;width:400px;text-align:center;">104 sales</div>
<div class="t" style="top:483.60px;font-size:5.7px;color:#5b73e8;left:478.50px;width:400px;text-align:center;font-weight:600;">View All Sources</div>
<svg class="a" style="left:703.00px;top:486.40px;" width="3" height="4.4" viewBox="0 0 3 4.4"><path d="M0.8 0.8L2.2 2.2L0.8 3.6" fill="none" stroke="#5b73e8" stroke-width="0.7" stroke-linecap="round" stroke-linejoin="round"/></svg>
<div class="a" style="left:112.70px;top:508.90px;width:679.20px;height:131.10px;background:#2a2d3a;border-radius:1.8px;"></div>
<div class="t" style="top:517.50px;font-size:6.7px;color:#f3f4f8;font-weight:700;left:120.40px;">Latest Transaction</div>
<div class="a" style="left:120.40px;top:536.00px;width:663.30px;height:20.60px;background:#323544;border-radius:0px;"></div>
<div class="t" style="top:541.20px;font-size:5.9px;color:#eceef4;font-weight:700;left:147.00px;">Order ID</div>
<div class="t" style="top:541.20px;font-size:5.9px;color:#eceef4;font-weight:700;left:223.00px;">Billing Name</div>
<div class="t" style="top:541.20px;font-size:5.9px;color:#eceef4;font-weight:700;left:325.00px;">Date</div>
<div class="t" style="top:541.20px;font-size:5.9px;color:#eceef4;font-weight:700;left:418.50px;">Total</div>
<div class="t" style="top:541.20px;font-size:5.9px;color:#eceef4;font-weight:700;left:468.00px;">Payment Status</div>
<div class="t" style="top:541.20px;font-size:5.9px;color:#eceef4;font-weight:700;left:577.00px;">Payment Method</div>
<div class="t" style="top:541.20px;font-size:5.9px;color:#eceef4;font-weight:700;left:693.00px;">View Details</div>
<div class="a" style="left:125.8px;top:543.00px;width:6.4px;height:6.4px;border-radius:1.2px;background:#3a3e4f"></div>
<div class="a" style="left:125.8px;top:563.80px;width:6.4px;height:6.4px;border-radius:1.2px;background:#3a3e4f"></div>
<div class="t" style="top:562.10px;font-size:6.3px;color:#a6adc0;left:147.00px;-webkit-text-stroke:0.2px #a6adc0;">#MB2540</div>
<div class="t" style="top:562.10px;font-size:6.1px;color:#8a90a3;left:223.00px;">Neal Matthews</div>
<div class="t" style="top:562.10px;font-size:6.1px;color:#8a90a3;left:325.00px;">07 Oct, 2019</div>
<div class="t" style="top:562.10px;font-size:6.1px;color:#8a90a3;left:418.50px;">$400</div>
<div class="a" style="left:468.00px;top:564.50px;width:16.00px;height:6.40px;background:rgba(52,195,143,0.22);border-radius:3.2px;"></div>
<div class="t" style="top:562.80px;font-size:4.5px;color:#34c38f;font-weight:700;left:276.00px;width:400px;text-align:center;">Paid</div>
<svg class="a" style="left:577.00px;top:564.20px;" width="7.4" height="5.6" viewBox="0 0 7.4 5.6"><rect x="0.4" y="0.4" width="6.6" height="4.8" rx="0.8" fill="none" stroke="#c3c8d8" stroke-width="0.8"/><rect x="1.4" y="1.4" width="4.6" height="2.2" fill="#c3c8d8"/></svg>
<div class="t" style="top:562.10px;font-size:6.1px;color:#8a90a3;left:587.00px;">Mastercard</div>
<div class="a" style="left:693.00px;top:561.50px;width:37.30px;height:11.00px;background:#5b73e8;border-radius:5.5px;"></div>
<div class="t" style="top:562.10px;font-size:5.3px;color:#fff;left:511.60px;width:400px;text-align:center;">View Details</div>
<div class="a" style="left:125.8px;top:586.00px;width:6.4px;height:6.4px;border-radius:1.2px;background:#3a3e4f"></div>
<div class="t" style="top:584.30px;font-size:6.3px;color:#a6adc0;left:147.00px;-webkit-text-stroke:0.2px #a6adc0;">#MB2541</div>
<div class="t" style="top:584.30px;font-size:6.1px;color:#8a90a3;left:223.00px;">Jamal Burnett</div>
<div class="t" style="top:584.30px;font-size:6.1px;color:#8a90a3;left:325.00px;">07 Oct, 2019</div>
<div class="t" style="top:584.30px;font-size:6.1px;color:#8a90a3;left:418.50px;">$380</div>
<div class="a" style="left:468.00px;top:586.70px;width:33.00px;height:6.40px;background:rgba(244,106,106,0.22);border-radius:3.2px;"></div>
<div class="t" style="top:585.00px;font-size:4.5px;color:#f46a6a;font-weight:700;left:284.50px;width:400px;text-align:center;">Chargeback</div>
<svg class="a" style="left:577.00px;top:586.40px;" width="7.4" height="5.6" viewBox="0 0 7.4 5.6"><rect x="0.2" y="0.2" width="7" height="5.2" rx="0.8" fill="#c3c8d8"/><path d="M1.2 2.9H6.2" stroke="#2a2d3a" stroke-width="0.8" stroke-dasharray="0.9 0.5"/></svg>
<div class="t" style="top:584.30px;font-size:6.1px;color:#8a90a3;left:587.00px;">Visa</div>
<div class="a" style="left:693.00px;top:583.70px;width:37.30px;height:11.00px;background:#5b73e8;border-radius:5.5px;"></div>
<div class="t" style="top:584.30px;font-size:5.3px;color:#fff;left:511.60px;width:400px;text-align:center;">View Details</div>
<div class="a" style="left:120.40px;top:578.00px;width:663.30px;height:0.50px;background:#303443;border-radius:0px;"></div>
</div></body></html>
